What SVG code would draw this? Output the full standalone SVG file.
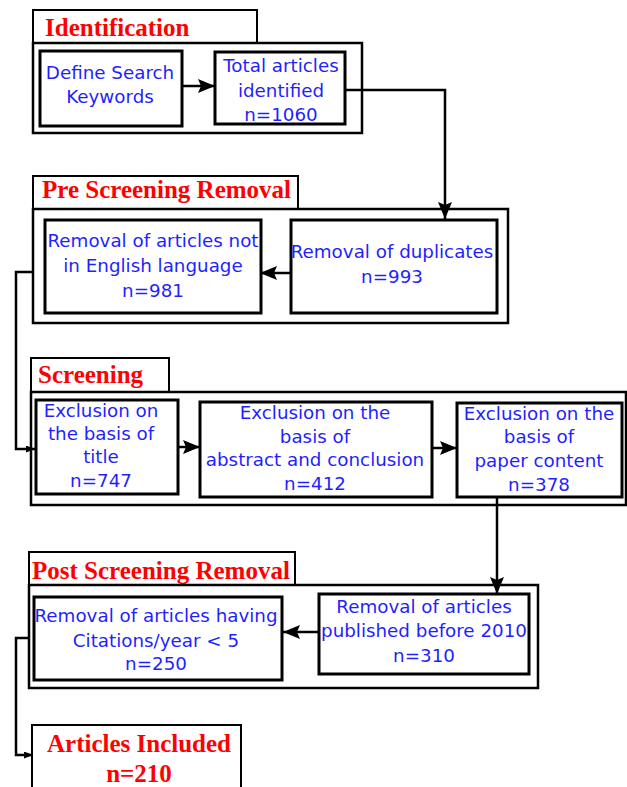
<svg xmlns="http://www.w3.org/2000/svg" width="627" height="787" viewBox="0 0 627 787">
<style>
.tab{fill:#fff;stroke:#000;stroke-width:2}
.outer{fill:none;stroke:#000;stroke-width:2.5}
.box{fill:#fff;stroke:#000;stroke-width:3}
.title{font-family:"Liberation Serif","Times New Roman",serif;font-weight:bold;font-size:25px;fill:#ff0000}
.t{font-family:"DejaVu Sans",Verdana,sans-serif;font-size:18.3px;fill:#1f1fff;text-anchor:middle}
.c{fill:none;stroke:#000;stroke-width:2.5}
</style>
<defs>
<marker id="ah" markerWidth="18" markerHeight="16" refX="17" refY="8" orient="auto" markerUnits="userSpaceOnUse">
<path d="M0,1 L17,8 L0,15 L3,8 Z" fill="#000"/>
</marker>
<marker id="ahs" markerWidth="9" markerHeight="7" refX="9" refY="3.5" orient="auto" markerUnits="userSpaceOnUse">
<path d="M0,0 L9,3.5 L0,7 Z" fill="#000"/>
</marker>
</defs>

<g id="identification">
<rect class="tab" x="33" y="10" width="224" height="33"/>
<text class="title" x="45" y="36">Identification</text>
<rect class="outer" x="33" y="43" width="329" height="90"/>
</g>
<g id="define">
<rect class="box" x="40" y="51" width="142" height="75"/>
<text class="t" x="110" y="79">Define Search</text>
<text class="t" x="110" y="103">Keywords</text>
</g>
<g id="total">
<rect class="box" x="215" y="52" width="130" height="72"/>
<text class="t" x="281" y="72">Total articles</text>
<text class="t" x="281" y="97">identified</text>
<text class="t" x="281" y="121">n=1060</text>
</g>

<g id="prescreening">
<rect class="tab" x="33" y="176" width="265" height="33"/>
<text class="title" x="42" y="198">Pre Screening Removal</text>
<rect class="outer" x="33" y="209" width="475" height="114"/>
</g>
<g id="english">
<rect class="box" x="45" y="220" width="216" height="93"/>
<text class="t" x="153" y="247">Removal of articles not</text>
<text class="t" x="153" y="272">in English language</text>
<text class="t" x="153" y="297">n=981</text>
</g>
<g id="duplicates">
<rect class="box" x="291" y="220" width="206" height="93"/>
<text class="t" x="392" y="258">Removal of duplicates</text>
<text class="t" x="392" y="283">n=993</text>
</g>

<g id="screening">
<rect class="tab" x="31" y="358" width="138" height="34"/>
<text class="title" x="38" y="383">Screening</text>
<rect class="outer" x="31" y="392" width="595" height="113"/>
</g>
<g id="title">
<rect class="box" x="36" y="400" width="142" height="94"/>
<text class="t" x="101" y="417">Exclusion on</text>
<text class="t" x="101" y="440">the basis of</text>
<text class="t" x="101" y="463">title</text>
<text class="t" x="101" y="487">n=747</text>
</g>
<g id="abstract">
<rect class="box" x="200" y="402" width="232" height="95"/>
<text class="t" x="315" y="419">Exclusion on the</text>
<text class="t" x="315" y="443">basis of</text>
<text class="t" x="315" y="466">abstract and conclusion</text>
<text class="t" x="315" y="490">n=412</text>
</g>
<g id="content">
<rect class="box" x="457" y="403" width="165" height="94"/>
<text class="t" x="539" y="420">Exclusion on the</text>
<text class="t" x="539" y="443">basis of</text>
<text class="t" x="539" y="467">paper content</text>
<text class="t" x="539" y="491">n=378</text>
</g>

<g id="postscreening">
<rect class="tab" x="29" y="552" width="266" height="33"/>
<text class="title" x="32" y="579">Post Screening Removal</text>
<rect class="outer" x="29" y="585" width="509" height="103"/>
</g>
<g id="citations">
<rect class="box" x="34" y="597" width="248" height="83"/>
<text class="t" x="156" y="622">Removal of articles having</text>
<text class="t" x="156" y="647">Citations/year &lt; 5</text>
<text class="t" x="156" y="670">n=250</text>
</g>
<g id="before2010">
<rect class="box" x="319" y="594" width="210" height="80"/>
<text class="t" x="424" y="613">Removal of articles</text>
<text class="t" x="424" y="637">published before 2010</text>
<text class="t" x="424" y="662">n=310</text>
</g>

<g id="included">
<rect class="tab" x="32" y="725" width="209" height="70"/>
<text class="title" x="139" y="752" text-anchor="middle">Articles Included</text>
<text class="title" x="139" y="782" text-anchor="middle">n=210</text>
</g>

<g id="connectors">
<line class="c" x1="182" y1="86" x2="215" y2="86" marker-end="url(#ah)"/>
<polyline class="c" points="345,90 445,90 445,219" marker-end="url(#ah)"/>
<line class="c" x1="291" y1="273" x2="260" y2="273" marker-end="url(#ah)"/>
<polyline class="c" points="33,272 16,272 16,449 35,449" marker-end="url(#ahs)"/>
<line class="c" x1="178" y1="447" x2="200" y2="447" marker-end="url(#ah)"/>
<line class="c" x1="432" y1="448" x2="457" y2="448" marker-end="url(#ah)"/>
<polyline class="c" points="497,497 497,594" marker-end="url(#ah)"/>
<line class="c" x1="319" y1="632" x2="283" y2="632" marker-end="url(#ah)"/>
<polyline class="c" points="29,638 16,638 16,755 33,755" marker-end="url(#ahs)"/>
</g>
</svg>
